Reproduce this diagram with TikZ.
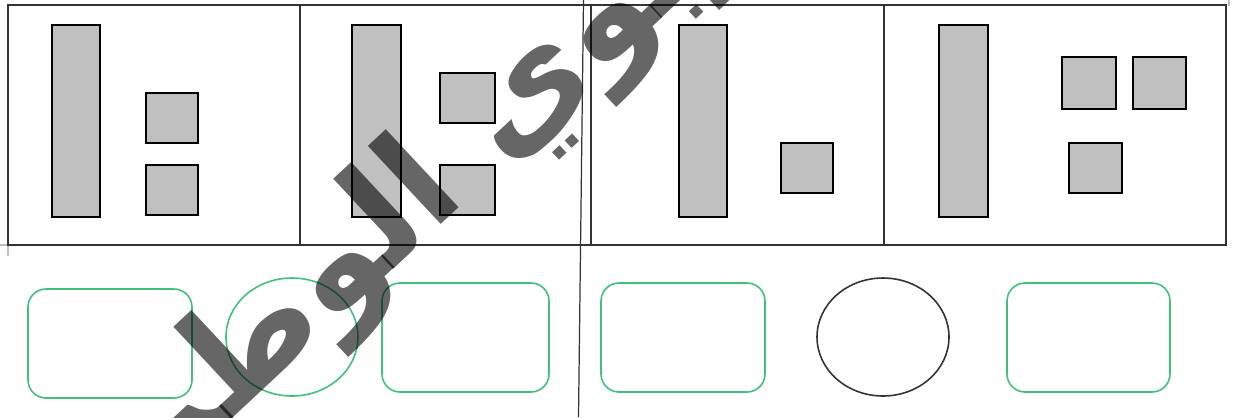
\documentclass[tikz,border=0pt]{standalone}
\usepackage{fontspec}
\newfontfamily\arabicfont[Script=Arabic]{DejaVu Sans}
\TeXXeTstate=1
\definecolor{slotgreen}{RGB}{64,192,120}
\definecolor{barfill}{RGB}{192,192,192}
\definecolor{framegray}{RGB}{51,51,51}

\begin{document}
\begin{tikzpicture}[
    x=0.02cm, y=-0.02cm,
    frame/.style={draw=framegray, line width=1.1pt},
    bar/.style={draw=black, line width=0.9pt, fill=barfill},
    slot/.style={draw=slotgreen, line width=0.9pt, rounded corners=0.36cm},
    ring/.style={draw=#1, line width=0.9pt},
    crop/.style={draw=black!25, line width=0.6pt},
    wmtext/.style={text=black, text opacity=0.6, font=\arabicfont\bfseries\fontsize{80}{80}\selectfont, inner sep=0pt}
]
\useasboundingbox (0,0) rectangle (1234,417);

% ---- Crop marks ----
\draw[crop] (0,245) -- (8,245) -- (8,256);
\draw[crop] (1229,0) -- (1229,6);

% ---- Four panels ----
\draw[frame] (8,5) rectangle (1226,245);
\foreach \x in {300,591,884}
    \draw[frame] (\x,5) -- (\x,245);

% Panel 1
\draw[bar] (52,25) rectangle (100,217);
\draw[bar] (146,93) rectangle (198,143);
\draw[bar] (146,165) rectangle (198,215);

% Panel 2
\draw[bar] (352,25) rectangle (401,217);
\draw[bar] (440,73) rectangle (495,123);
\draw[bar] (440,165) rectangle (495,215);

% Panel 3
\draw[bar] (679,25) rectangle (727,217);
\draw[bar] (781,143) rectangle (833,193);

% Panel 4
\draw[bar] (939,25) rectangle (988,217);
\draw[bar] (1062,57) rectangle (1116,109);
\draw[bar] (1133,57) rectangle (1186,109);
\draw[bar] (1069,143) rectangle (1122,193);

% ---- Answer row ----
\draw[slot] (28,289) rectangle (192,398);
\draw[ring=slotgreen] (292,337) ellipse [x radius=66, y radius=59];
\draw[slot] (382,283) rectangle (549,392);
\draw[slot] (601,283) rectangle (765,392);
\draw[ring=framegray] (883,337) ellipse [x radius=66, y radius=59];
\draw[slot] (1007,283) rectangle (1170,392);

% ---- Fold line ----
\draw[draw=framegray, line width=0.7pt] (583.5,0) -- (578.5,417);

% ---- Watermark ----
\begin{scope}
    \clip (0,0) rectangle (1234,417);
    \node[wmtext, rotate=43, anchor=base west] (wmark) at (140,505) {\beginR التربوي الوطن\endR};
\end{scope}

\end{tikzpicture}
\end{document}
